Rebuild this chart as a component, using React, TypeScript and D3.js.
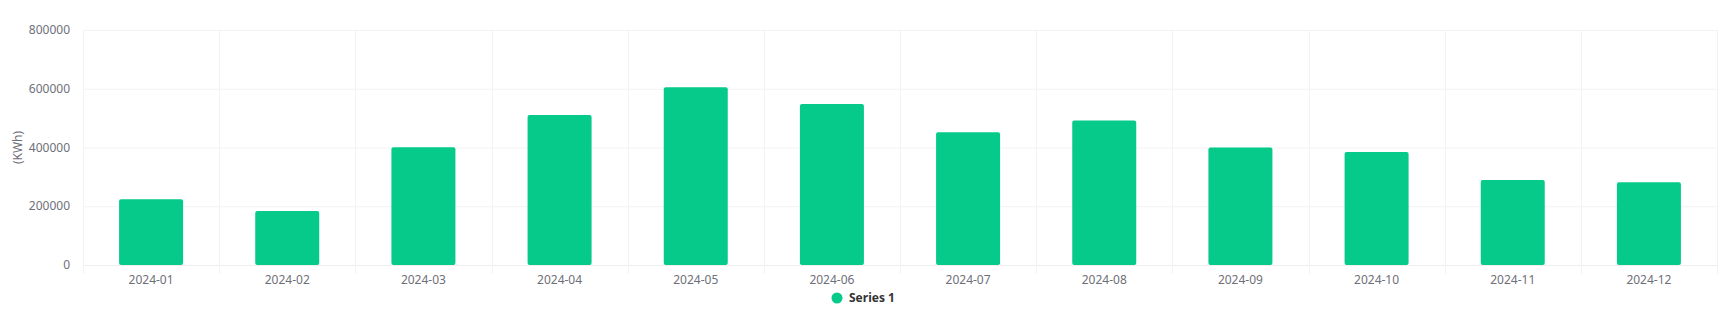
import React from "react";
import * as d3 from "d3";

const categories = ["2024-01","2024-02","2024-03","2024-04","2024-05","2024-06","2024-07","2024-08","2024-09","2024-10","2024-11","2024-12"];
const series1 = [224000, 184000, 401000, 511000, 605000, 548000, 452000, 492000, 400000, 385000, 289000, 282000];
const yTicks = [0, 200000, 400000, 600000, 800000];
const seriesName = "Series 1";
const yAxisTitle = "(KWh)";

const W = 1724, H = 314;
const M = { left: 83, right: 7, top: 30, bottom: 49 };
const FONT = "'Noto Sans', 'DejaVu Sans', sans-serif";

export default function App() {
  const x = d3.scaleBand<string>().domain(categories).range([M.left, W - M.right]).paddingInner(0).paddingOuter(0);
  const y = d3.scaleLinear().domain([0, 800000]).range([H - M.bottom, M.top]);
  const bw = x.bandwidth() * 0.47;
  const y0 = y(0);
  const boundaries = categories.map((c) => x(c)!).concat([W - M.right]);
  return (
    <svg width={W} height={H} style={{ position: "absolute", left: 0, top: 0, background: "#fff" }} fontFamily={FONT}>
      {yTicks.map((t) => (
        <line key={"h" + t} x1={M.left} x2={W - M.right} y1={y(t) + 0.5} y2={y(t) + 0.5} stroke={t === 0 ? "#eeeeee" : "#f3f3f3"} strokeWidth={1} />
      ))}
      {boundaries.map((b, i) => (
        <line key={"v" + i} x1={Math.round(b) + 0.5} x2={Math.round(b) + 0.5} y1={M.top} y2={y0 + 9} stroke="#f3f3f3" strokeWidth={1} />
      ))}
      {yTicks.map((t) => (
        <text key={"yt" + t} x={70} y={y(t)} dy="0.35em" textAnchor="end" fontSize={12} fill="#6e7079">{t}</text>
      ))}
      <text transform={`translate(18,${(M.top + y0) / 2}) rotate(-90)`} textAnchor="middle" dy="0.35em" fontSize={12} fill="#6e7079">{yAxisTitle}</text>
      {categories.map((c, i) => {
        const cx = x(c)! + x.bandwidth() / 2;
        return (
          <g key={c}>
            <rect x={cx - bw / 2} y={y(series1[i])} width={bw} height={y0 - y(series1[i])} rx={2} ry={2} fill="#05ca8a" />
            <text x={cx} y={280} dy="0.35em" textAnchor="middle" fontSize={12} fill="#6e7079">{c}</text>
          </g>
        );
      })}
      <circle cx={837} cy={298} r={5.5} fill="#05ca8a" />
      <text x={849} y={298} dy="0.35em" fontSize={12} fontWeight="bold" fill="#333">{seriesName}</text>
    </svg>
  );
}
